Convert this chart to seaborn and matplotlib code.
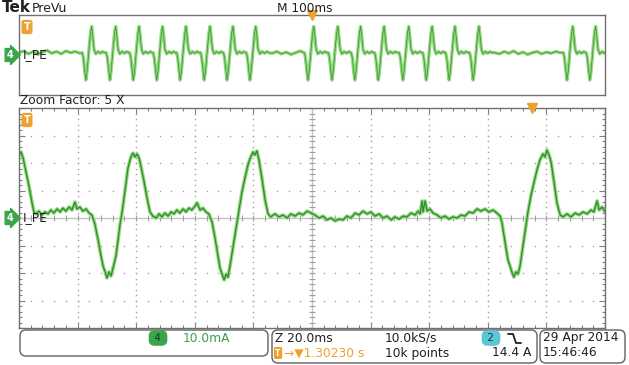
import numpy as np
import matplotlib
matplotlib.use("Agg")
import matplotlib.pyplot as plt
import seaborn as sns
from matplotlib.patches import FancyBboxPatch
from matplotlib.lines import Line2D

# zoomed window trace: time (ms, 20 ms/div) and current (mA, 10 mA/div)
zoom_t = [0.0, 0.7, 1.4, 2.4, 3.4, 4.4, 5.1,
          5.8, 6.8, 7.8, 8.9, 9.9, 10.9, 11.9, 13.0, 14.0, 15.0, 16.0, 17.1, 18.1, 19.1,
          19.8, 20.8, 21.8, 22.9, 23.9, 24.9,
          25.9, 27.0, 28.0, 28.7, 29.4, 30.0, 30.7, 31.4, 32.1, 33.1, 33.8, 34.5, 35.2,
          36.2, 37.2, 38.2, 38.9, 39.6, 40.3, 41.0, 41.6, 42.7, 43.7, 44.7,
          45.7, 46.8, 47.8, 48.8, 49.8, 50.9, 51.9, 52.9, 53.9, 54.9, 56.0, 57.0, 58.0,
          59.0, 60.1, 60.8, 61.8, 62.8, 63.8, 64.8,
          65.9, 66.9, 67.9, 68.6, 69.3, 70.0, 70.7, 71.3, 72.0, 73.0, 74.1, 75.1, 76.1,
          77.1, 78.2, 79.2, 79.9, 80.5, 81.2, 81.9, 82.9, 84.0, 85.0,
          85.9, 87.4, 88.7, 90.1, 91.5, 92.8, 94.2, 95.6, 96.9, 98.3, 99.7, 101.0, 102.4,
          103.8, 105.1, 106.5, 107.9, 109.2, 110.6, 111.9, 113.3, 114.7, 116.0, 117.4,
          118.8, 120.1, 121.5, 122.9, 124.2, 125.6, 127.0, 128.3, 129.7, 131.1, 132.4,
          133.8, 135.2, 136.2, 136.9, 137.6, 137.9, 138.6, 139.3, 140.3, 141.3, 142.7,
          144.0, 145.4, 146.8, 148.1, 149.5, 150.9, 152.2, 153.6, 155.0, 156.3, 157.7,
          159.0, 160.4, 161.8, 163.1, 164.2,
          164.8, 165.5, 166.2, 166.9, 167.6, 168.2, 168.9, 169.6, 170.3, 171.0, 171.6,
          172.3, 173.0, 173.7, 174.7, 175.8, 176.8, 177.8, 178.8, 179.5, 180.2, 180.9,
          181.6, 182.6, 183.6, 184.7,
          185.7, 187.0, 188.4, 189.8, 191.1, 192.5, 193.9, 195.2, 196.2, 197.3, 198.0,
          199.0, 200.0]
zoom_i = [22.9, 24.0, 21.8, 16.7, 11.6, 5.8, 2.2,
          1.5, 2.5, 1.1, 2.2, 1.5, 2.9, 1.8, 3.3, 2.2, 3.6, 2.5, 4.0, 2.9, 5.8,
          3.3, 4.0, 2.5, 3.3, 1.8, 1.1,
          -2.2, -8.0, -13.8, -17.5, -19.6, -21.8, -19.6, -21.1, -18.2, -13.8, -8.0, -2.2, 2.2,
          10.2, 18.2, 22.2, 23.6, 22.2, 23.3, 21.8, 18.9, 13.1, 7.3, 2.2,
          0.7, 0.0, 1.5, 0.4, 1.8, 0.7, 2.2, 1.5, 2.9, 1.8, 3.3, 2.2, 3.6,
          2.9, 4.4, 5.5, 2.9, 3.6, 2.2, 1.5,
          -1.5, -7.3, -13.8, -18.2, -20.4, -22.5, -20.4, -21.5, -17.5, -10.9, -3.6, 2.9, 9.5,
          14.5, 19.6, 22.5, 24.0, 22.9, 24.4, 21.1, 14.5, 6.5, 1.5,
          0.4, 1.5, 0.4, 1.1, 0.0, 1.5, 0.7, 1.8, 1.1, 2.5, 1.8, 1.1, 0.0,
          0.7, -0.7, 0.0, -1.1, -0.4, -0.7, 0.7, 0.0, 1.8, 1.1, 2.5,
          1.5, 2.2, 0.7, 1.5, 0.0, 0.7, -0.7, 0.4, -0.4, 0.7, 0.4,
          1.8, 1.1, 2.5, 1.5, 6.2, 2.2, 6.2, 2.5, 3.3, 1.8, 1.1,
          0.0, 0.7, -0.4, 0.4, 0.0, 1.1, 0.7, 2.2, 1.8, 3.3, 2.5,
          3.3, 2.2, 2.9, 1.8, 0.7,
          -1.5, -6.2, -10.9, -15.3, -17.5, -19.6, -21.5, -19.6, -20.4, -17.5, -13.1,
          -8.0, -2.9, 2.2, 8.0, 13.1, 17.5, 21.1, 23.3, 22.2, 24.7, 22.9,
          20.4, 13.1, 5.5, 1.1,
          0.4, 1.5, 0.4, 1.8, 1.1, 2.2, 1.5, 2.9, 2.2, 6.2, 2.9,
          4.0, 2.2]

# preview (full 1 s record, 100 ms/div): trough times of each cycle and the cycle shape
trough_ms = [114, 155, 195, 235, 275, 316, 355, 394,
             493, 534, 573, 613, 655, 695, 734, 775,
             935, 974]
cycle_dt = [-6, -4, -2, 0, 2, 4, 6, 8, 10, 12, 14, 17, 21, 25, 29, 32]
cycle_i = [2, -3, -13, -22, -15, -3, 8, 19, 25, 16, 5, 1, 3, 1.5, 3, 2]
idle_t = [0, 8, 16, 24, 32, 40, 48, 56, 64, 72, 80, 88, 96, 104,
          432, 440, 448, 456, 464, 472, 480, 486,
          812, 820, 828, 836, 844, 852, 860, 868, 876, 884, 892, 900, 908, 916, 924]
idle_i = [2, 3.5, 1, 3, 0.5, 2.5, 4, 1.5, 3, 1, 3.5, 2, 3, 1.5,
          1.5, 3, 1, 2.5, 0.5, 2, 3.5, 2,
          2, 1, 3, 1.5, 3.5, 1, 2.5, 0.5, 2, 3, 1, 2.5, 1.5, 3, 2]

prev_t = list(idle_t)
prev_i = list(idle_i)
for tr in trough_ms:
    prev_t += [tr + d for d in cycle_dt]
    prev_i += cycle_i
order = np.argsort(prev_t)
prev_t = np.array(prev_t)[order]
prev_i = np.array(prev_i)[order]

HALO = "#8fd878"
LINE = "#2f8a34"
GRID = "#a0a0a0"
ORANGE = "#f0a030"

sns.set_style("white")
plt.rcParams["font.family"] = ["DejaVu Sans"]

fig = plt.figure(figsize=(6.29, 3.65), dpi=100)
ax_top = fig.add_axes([19 / 629, 1 - 95 / 365, 586 / 629, 80 / 365])
ax = fig.add_axes([19 / 629, 1 - 328 / 365, 586 / 629, 220 / 365])
px = fig.dpi_scale_trans


def P(x, y):
    # screen pixel -> inches from bottom-left
    return (x / 100, (365 - y) / 100)


# ---- preview window ----
sns.lineplot(x=prev_t, y=prev_i, ax=ax_top, color=HALO, lw=2.4, estimator=None, zorder=2)
sns.lineplot(x=prev_t, y=prev_i, ax=ax_top, color="#3c8f3c", lw=0.5, estimator=None, zorder=3)
ax_top.set_xlim(0, 1000)
ax_top.set_ylim(-35, 35)
ax_top.set_xticks([])
ax_top.set_yticks([])
ax_top.set_xlabel("")
ax_top.set_ylabel("")
for s in ax_top.spines.values():
    s.set_color("#707070")
    s.set_linewidth(1)
ax_top.plot(500, 35, marker="v", ms=7, color=ORANGE, clip_on=False, zorder=5)

# ---- zoomed window ----
ax.set_xlim(0, 200)
ax.set_ylim(-40, 40)
ax.set_xticks(np.arange(0, 201, 20))
ax.set_xticks(np.arange(0, 201, 4), minor=True)
ax.set_yticks(np.arange(-40, 41, 10))
ax.set_yticks(np.arange(-40, 41, 2), minor=True)
ax.tick_params(which="both", direction="in", top=True, right=True, bottom=True, left=True,
               labelbottom=False, labelleft=False, color="#808080", width=0.8)
ax.tick_params(which="major", length=4)
ax.tick_params(which="minor", length=2.5)
for s in ax.spines.values():
    s.set_color("#707070")
    s.set_linewidth(1)

ydots = np.arange(-40, 41, 2)
xdots = np.arange(0, 201, 4)
for gx in range(20, 200, 20):
    if gx != 100:
        ax.plot([gx] * len(ydots), ydots, ls="none", marker="s", ms=1.0, mew=0, color=GRID, zorder=1)
for gy in range(-30, 31, 10):
    if gy != 0:
        ax.plot(xdots, [gy] * len(xdots), ls="none", marker="s", ms=1.0, mew=0, color=GRID, zorder=1)
ax.axhline(0, color="#c4c4c4", lw=1, zorder=1)
ax.axvline(100, color="#c4c4c4", lw=1, zorder=1)
ax.plot(xdots, [0] * len(xdots), ls="none", marker="|", ms=4, mew=0.8, color=GRID, zorder=1)
ax.plot([100] * len(ydots), ydots, ls="none", marker="_", ms=4, mew=0.8, color=GRID, zorder=1)

sns.lineplot(x=zoom_t, y=zoom_i, ax=ax, color=HALO, lw=2.6, estimator=None, zorder=2)
sns.lineplot(x=zoom_t, y=zoom_i, ax=ax, color=LINE, lw=0.9, estimator=None, zorder=3)
ax.set_xlabel("")
ax.set_ylabel("")
ax.plot(175.1, 40, marker="v", ms=7, color=ORANGE, clip_on=False, zorder=5)

# ---- channel / trigger markers ----
for yy in (27, 120):
    fig.text(*P(27, yy), "T", transform=px, ha="center", va="center", fontsize=7,
             color="white", fontweight="bold",
             bbox=dict(boxstyle="round,pad=0.15,rounding_size=0.2", fc=ORANGE, ec=ORANGE))
for yy in (55, 218):
    fig.text(*P(10, yy), "4", transform=px, ha="center", va="center", fontsize=7,
             color="white", fontweight="bold",
             bbox=dict(boxstyle="rarrow,pad=0.15", fc="#3aa64a", ec="#3aa64a"))
    fig.text(*P(23, yy), "I_PE", transform=px, ha="left", va="center", fontsize=8.8, color="#202020")

# ---- header ----
fig.text(*P(2, 8), "Tek", transform=px, ha="left", va="center", fontsize=11,
         fontweight="bold", color="#202020")
fig.text(*P(32, 8), "PreVu", transform=px, ha="left", va="center", fontsize=9, color="#202020")
fig.text(*P(277, 8), "M 100ms", transform=px, ha="left", va="center", fontsize=8.7, color="#202020")
fig.text(*P(20, 101), "Zoom Factor: 5 X", transform=px, ha="left", va="center",
         fontsize=8.8, color="#202020")

# ---- status bar ----
for x0, y0, x1, y1 in [(20, 330, 268, 356), (272, 330, 537, 363), (540, 330, 625, 363)]:
    fig.add_artist(FancyBboxPatch(P(x0, y1), (x1 - x0) / 100, (y1 - y0) / 100,
                                  boxstyle="round,pad=0,rounding_size=0.06", transform=px,
                                  fc="white", ec="#606060", lw=1))

fig.text(*P(158, 338), " 4 ", transform=px, ha="center", va="center", fontsize=7.5, color="#15401a",
         bbox=dict(boxstyle="round,pad=0.2,rounding_size=0.5", fc="#3aa64a", ec="#3aa64a"))
fig.text(*P(183, 338), "10.0mA", transform=px, ha="left", va="center", fontsize=8.8, color="#3aa04a")

fig.text(*P(275, 338), "Z 20.0ms", transform=px, ha="left", va="center", fontsize=8.8, color="#202020")
fig.text(*P(385, 338), "10.0kS/s", transform=px, ha="left", va="center", fontsize=8.8, color="#202020")
fig.text(*P(491, 338), " 2 ", transform=px, ha="center", va="center", fontsize=7.5, color="#153a40",
         bbox=dict(boxstyle="round,pad=0.2,rounding_size=0.5", fc="#5cc6d6", ec="#5cc6d6"))
edge_x = [508, 513, 516, 521]
edge_y = [334, 334, 343, 343]
fig.add_artist(Line2D([x / 100 for x in edge_x], [(365 - y) / 100 for y in edge_y],
                      transform=px, color="#202020", lw=1.3))

fig.text(*P(278, 353), "T", transform=px, ha="center", va="center", fontsize=5.5,
         color="white", fontweight="bold",
         bbox=dict(boxstyle="round,pad=0.1", fc=ORANGE, ec=ORANGE))
fig.text(*P(284, 353), "→▼1.30230 s", transform=px, ha="left", va="center", fontsize=8.8, color=ORANGE)
fig.text(*P(385, 353), "10k points", transform=px, ha="left", va="center", fontsize=8.8, color="#202020")
fig.text(*P(531, 353), "14.4 A", transform=px, ha="right", va="center", fontsize=8.8, color="#202020")

fig.text(*P(543, 338), "29 Apr 2014", transform=px, ha="left", va="center", fontsize=8.8, color="#202020")
fig.text(*P(543, 353), "15:46:46", transform=px, ha="left", va="center", fontsize=8.8, color="#202020")

fig.savefig("out.png", dpi=100)
